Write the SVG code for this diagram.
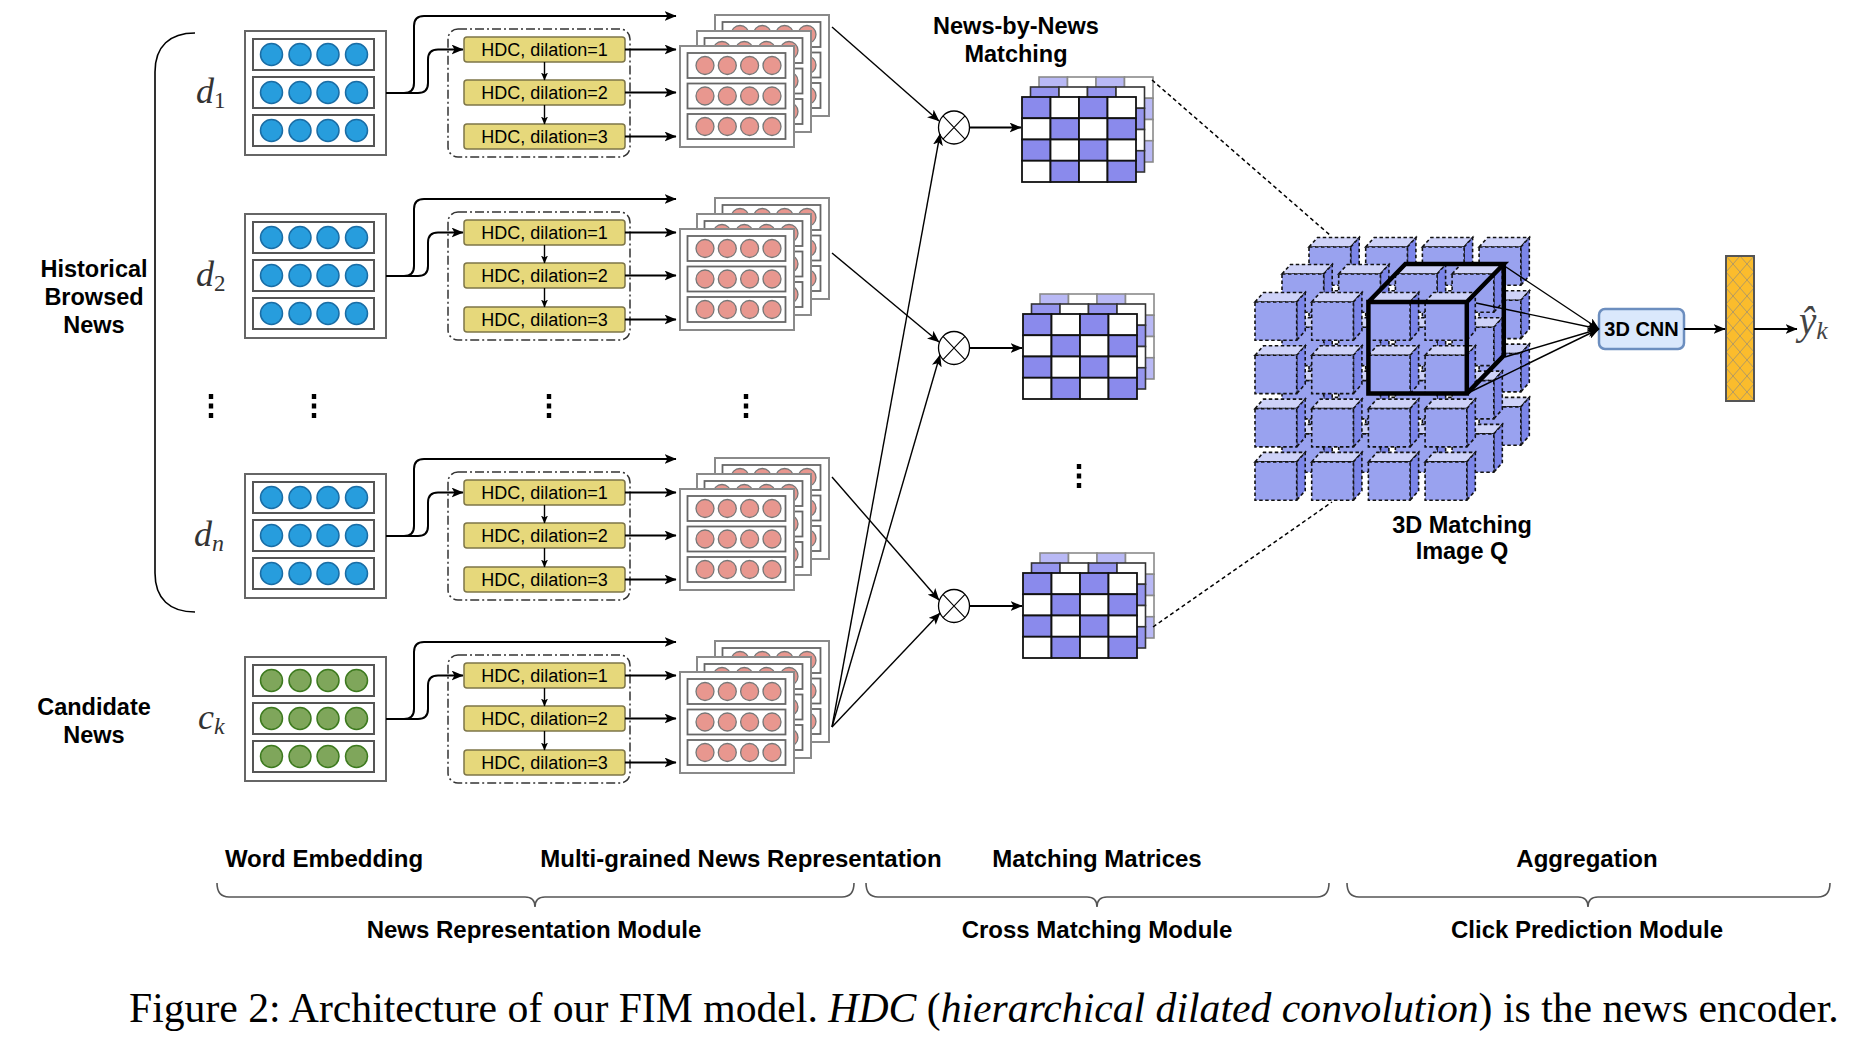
<svg xmlns="http://www.w3.org/2000/svg" xmlns:xlink="http://www.w3.org/1999/xlink" width="1872" height="1052" viewBox="0 0 1872 1052">
<style>
.lbl{font-family:"Liberation Sans",Arial,sans-serif;font-weight:bold;font-size:23.5px;text-anchor:middle;fill:#000}
.blbl{font-family:"Liberation Sans",Arial,sans-serif;font-weight:bold;font-size:24px;text-anchor:middle;fill:#000}
.cnn{font-family:"Liberation Sans",Arial,sans-serif;font-weight:bold;font-size:20px;text-anchor:middle;fill:#000}
.hdct{font-family:"Liberation Sans",Arial,sans-serif;font-size:18px;text-anchor:middle;fill:#000}
.math{font-family:"Liberation Serif","Times New Roman",serif;font-style:italic;font-size:36px;fill:#333}
.yhat{font-family:"Liberation Serif","Times New Roman",serif;font-style:italic;font-size:39px;fill:#444}
.cap{font-family:"Liberation Serif","Times New Roman",serif;font-size:41.7px;fill:#000}
.wbox{fill:#fff;stroke:#666;stroke-width:2}
.wrow{fill:#fff;stroke:#555;stroke-width:2}
.blue{fill:#279DDD;stroke:#1A6DA5;stroke-width:1.5}
.green{fill:#7FA65B;stroke:#3D7A1F;stroke-width:1.5}
.card{fill:#fff;stroke:#8a8a8a;stroke-width:2}
.crow{fill:#fff;stroke:#666;stroke-width:1.8}
.pink{fill:#E8978F;stroke:#777;stroke-width:1.3}
.dd{fill:none;stroke:#333;stroke-width:1.5;stroke-dasharray:9 3 2 3}
.hdc{fill:#E6D87B;stroke:#7d7548;stroke-width:1.5}
.ln{fill:none;stroke:#000;stroke-width:2}
.thin{fill:none;stroke:#000;stroke-width:1.4}
.dash{fill:none;stroke:#000;stroke-width:1.5;stroke-dasharray:4 3}
.cube{stroke:#111;stroke-width:1.6;stroke-dasharray:3.5 2.5}
.brace{fill:none;stroke:#555;stroke-width:1.6}
</style>
<defs>
<marker id="arr" viewBox="0 0 12 10" refX="11.5" refY="5" markerWidth="12" markerHeight="10" markerUnits="userSpaceOnUse" orient="auto"><path d="M0,0 L12,5 L0,10 L3,5 Z" fill="#000"/></marker>
<marker id="arrS" viewBox="0 0 8 7" refX="7.5" refY="3.5" markerWidth="8" markerHeight="7" markerUnits="userSpaceOnUse" orient="auto"><path d="M0,0 L8,3.5 L0,7 L2,3.5 Z" fill="#000"/></marker>
<pattern id="hatch" patternUnits="userSpaceOnUse" x="1726" y="256" width="14" height="16"><rect width="14" height="16" fill="#FBBC2C"/><path d="M0,0 L14,16 M14,0 L0,16" stroke="#B39A62" stroke-width="1"/></pattern>
<g id="rowB"><rect class="wrow" x="8" y="8" width="121" height="31"/><circle class="blue" cx="26.5" cy="23.5" r="11"/><circle class="blue" cx="55" cy="23.5" r="11"/><circle class="blue" cx="83" cy="23.5" r="11"/><circle class="blue" cx="111.5" cy="23.5" r="11"/></g>
<g id="rowG"><rect class="wrow" x="8" y="8" width="121" height="31"/><circle class="green" cx="26.5" cy="23.5" r="11"/><circle class="green" cx="55" cy="23.5" r="11"/><circle class="green" cx="83" cy="23.5" r="11"/><circle class="green" cx="111.5" cy="23.5" r="11"/></g>
<g id="weB"><rect class="wbox" width="141" height="124"/><use href="#rowB"/><use href="#rowB" y="38"/><use href="#rowB" y="76"/></g>
<g id="weG"><rect class="wbox" width="141" height="124"/><use href="#rowG"/><use href="#rowG" y="38"/><use href="#rowG" y="76"/></g>
<g id="crow"><rect class="crow" x="7.5" y="7" width="98" height="25"/><circle class="pink" cx="25" cy="19.5" r="9"/><circle class="pink" cx="47.3" cy="19.5" r="9"/><circle class="pink" cx="69.6" cy="19.5" r="9"/><circle class="pink" cx="92" cy="19.5" r="9"/></g>
<g id="card"><rect class="card" width="114" height="101"/><use href="#crow"/><use href="#crow" y="30.5"/><use href="#crow" y="61"/></g>
<g id="stack"><use href="#card" x="35" y="-31"/><use href="#card" x="17" y="-15"/><use href="#card"/></g>
<g id="mgrid">
<rect x="0" y="0" width="28.5" height="21.25"/><rect x="28.5" y="0" width="28.5" height="21.25" fill="#fff"/><rect x="57" y="0" width="28.5" height="21.25"/><rect x="85.5" y="0" width="28.5" height="21.25" fill="#fff"/>
<rect x="0" y="21.25" width="28.5" height="21.25" fill="#fff"/><rect x="28.5" y="21.25" width="28.5" height="21.25"/><rect x="57" y="21.25" width="28.5" height="21.25" fill="#fff"/><rect x="85.5" y="21.25" width="28.5" height="21.25"/>
<rect x="0" y="42.5" width="28.5" height="21.25"/><rect x="28.5" y="42.5" width="28.5" height="21.25" fill="#fff"/><rect x="57" y="42.5" width="28.5" height="21.25"/><rect x="85.5" y="42.5" width="28.5" height="21.25" fill="#fff"/>
<rect x="0" y="63.75" width="28.5" height="21.25" fill="#fff"/><rect x="28.5" y="63.75" width="28.5" height="21.25"/><rect x="57" y="63.75" width="28.5" height="21.25" fill="#fff"/><rect x="85.5" y="63.75" width="28.5" height="21.25"/>
</g>
<g id="matrix"><use href="#mgrid" x="17" y="-20" fill="#B9B9F5" stroke="#8a8a8a" stroke-width="1.6"/><use href="#mgrid" x="8.5" y="-10" fill="#9595EE" stroke="#333" stroke-width="1.6"/><use href="#mgrid" fill="#8A8AEC" stroke="#111" stroke-width="1.8"/></g>
<g id="otimes"><ellipse cx="0" cy="0" rx="15.5" ry="16.5" fill="#fff" stroke="#000" stroke-width="1.3"/><path d="M-11,-11.7 L11,11.7 M11,-11.7 L-11,11.7" stroke="#000" stroke-width="1.1"/></g>
<g id="cube" class="cube"><path d="M0,0 L8.5,-9.5 H50.2 L41.7,0 Z" fill="#CED2F8"/><path d="M41.7,0 L50.2,-9.5 V28.8 L41.7,38.3 Z" fill="#7B85E9"/><rect width="41.7" height="38.3" fill="#99A2EF"/></g>
<g id="vdots"><rect x="-2.2" y="0" width="4.4" height="5"/><rect x="-2.2" y="9.5" width="4.4" height="5"/><rect x="-2.2" y="19" width="4.4" height="5"/></g>
</defs>
<rect width="1872" height="1052" fill="#fff"/>

<g id="labels-left">
<text class="lbl" x="94" y="277">Historical</text>
<text class="lbl" x="94" y="305">Browsed</text>
<text class="lbl" x="94" y="333">News</text>
<text class="lbl" x="94" y="715">Candidate</text>
<text class="lbl" x="94" y="743">News</text>
<path d="M195,33 C170,33 155,46 155,72 V573 C155,599 170,612 195,612" fill="none" stroke="#000" stroke-width="1.6"/>
</g>

<g id="node-d1"><use href="#weB" x="245" y="31"/><text class="math" x="196" y="103">d<tspan font-style="normal" font-size="23" dy="5">1</tspan></text></g>
<g id="node-d2"><use href="#weB" x="245" y="214"/><text class="math" x="196" y="286">d<tspan font-style="normal" font-size="23" dy="5">2</tspan></text></g>
<g id="node-dn"><use href="#weB" x="245" y="474"/><text class="math" x="194" y="546">d<tspan font-size="24" dy="5">n</tspan></text></g>
<g id="node-ck"><use href="#weG" x="245" y="657"/><text class="math" x="198" y="729">c<tspan font-size="24" dy="5">k</tspan></text></g>

<g id="hdc-d1">
<rect class="dd" x="448" y="29" width="182" height="128" rx="10"/>
<rect class="hdc" x="464" y="37" width="161" height="25" rx="3"/><text class="hdct" x="544.5" y="55.5">HDC, dilation=1</text>
<rect class="hdc" x="464" y="80" width="161" height="25" rx="3"/><text class="hdct" x="544.5" y="98.5">HDC, dilation=2</text>
<rect class="hdc" x="464" y="124" width="161" height="25" rx="3"/><text class="hdct" x="544.5" y="142.5">HDC, dilation=3</text>
</g>
<g id="hdc-d2">
<rect class="dd" x="448" y="212" width="182" height="128" rx="10"/>
<rect class="hdc" x="464" y="220" width="161" height="25" rx="3"/><text class="hdct" x="544.5" y="238.5">HDC, dilation=1</text>
<rect class="hdc" x="464" y="263" width="161" height="25" rx="3"/><text class="hdct" x="544.5" y="281.5">HDC, dilation=2</text>
<rect class="hdc" x="464" y="307" width="161" height="25" rx="3"/><text class="hdct" x="544.5" y="325.5">HDC, dilation=3</text>
</g>
<g id="hdc-dn">
<rect class="dd" x="448" y="472" width="182" height="128" rx="10"/>
<rect class="hdc" x="464" y="480" width="161" height="25" rx="3"/><text class="hdct" x="544.5" y="498.5">HDC, dilation=1</text>
<rect class="hdc" x="464" y="523" width="161" height="25" rx="3"/><text class="hdct" x="544.5" y="541.5">HDC, dilation=2</text>
<rect class="hdc" x="464" y="567" width="161" height="25" rx="3"/><text class="hdct" x="544.5" y="585.5">HDC, dilation=3</text>
</g>
<g id="hdc-ck">
<rect class="dd" x="448" y="655" width="182" height="128" rx="10"/>
<rect class="hdc" x="464" y="663" width="161" height="25" rx="3"/><text class="hdct" x="544.5" y="681.5">HDC, dilation=1</text>
<rect class="hdc" x="464" y="706" width="161" height="25" rx="3"/><text class="hdct" x="544.5" y="724.5">HDC, dilation=2</text>
<rect class="hdc" x="464" y="750" width="161" height="25" rx="3"/><text class="hdct" x="544.5" y="768.5">HDC, dilation=3</text>
</g>

<g id="rep-d1"><use href="#stack" x="680" y="46"/></g>
<g id="rep-d2"><use href="#stack" x="680" y="229"/></g>
<g id="rep-dn"><use href="#stack" x="680" y="489"/></g>
<g id="rep-ck"><use href="#stack" x="680" y="672"/></g>

<g id="ellipses">
<use href="#vdots" x="211" y="394"/>
<use href="#vdots" x="314" y="394"/>
<use href="#vdots" x="549" y="394"/>
<use href="#vdots" x="746" y="394"/>
<use href="#vdots" x="1079" y="464"/>
</g>

<g id="nbn-label">
<text class="lbl" x="1016" y="34">News-by-News</text>
<text class="lbl" x="1016" y="62">Matching</text>
</g>

<g id="otimes-1"><use href="#otimes" x="954" y="127.5"/></g>
<g id="otimes-2"><use href="#otimes" x="954" y="348"/></g>
<g id="otimes-3"><use href="#otimes" x="954" y="606"/></g>

<g id="matrix-1"><use href="#matrix" x="1022" y="97"/></g>
<g id="matrix-2"><use href="#matrix" x="1023" y="314"/></g>
<g id="matrix-3"><use href="#matrix" x="1023" y="573"/></g>

<g id="image-q">
<use href="#cube" x="1309" y="247"/><use href="#cube" x="1365.7" y="247"/><use href="#cube" x="1422.4" y="247"/><use href="#cube" x="1479.1" y="247"/>
<use href="#cube" x="1309" y="300.3"/><use href="#cube" x="1365.7" y="300.3"/><use href="#cube" x="1422.4" y="300.3"/><use href="#cube" x="1479.1" y="300.3"/>
<use href="#cube" x="1309" y="353.6"/><use href="#cube" x="1365.7" y="353.6"/><use href="#cube" x="1422.4" y="353.6"/><use href="#cube" x="1479.1" y="353.6"/>
<use href="#cube" x="1309" y="406.9"/><use href="#cube" x="1365.7" y="406.9"/><use href="#cube" x="1422.4" y="406.9"/><use href="#cube" x="1479.1" y="406.9"/>
<use href="#cube" x="1282" y="274"/><use href="#cube" x="1338.7" y="274"/><use href="#cube" x="1395.4" y="274"/><use href="#cube" x="1452.1" y="274"/>
<use href="#cube" x="1282" y="327.3"/><use href="#cube" x="1338.7" y="327.3"/><use href="#cube" x="1395.4" y="327.3"/><use href="#cube" x="1452.1" y="327.3"/>
<use href="#cube" x="1282" y="380.6"/><use href="#cube" x="1338.7" y="380.6"/><use href="#cube" x="1395.4" y="380.6"/><use href="#cube" x="1452.1" y="380.6"/>
<use href="#cube" x="1282" y="433.9"/><use href="#cube" x="1338.7" y="433.9"/><use href="#cube" x="1395.4" y="433.9"/><use href="#cube" x="1452.1" y="433.9"/>
<use href="#cube" x="1255" y="302"/><use href="#cube" x="1311.7" y="302"/><use href="#cube" x="1368.4" y="302"/><use href="#cube" x="1425.1" y="302"/>
<use href="#cube" x="1255" y="355.3"/><use href="#cube" x="1311.7" y="355.3"/><use href="#cube" x="1368.4" y="355.3"/><use href="#cube" x="1425.1" y="355.3"/>
<use href="#cube" x="1255" y="408.6"/><use href="#cube" x="1311.7" y="408.6"/><use href="#cube" x="1368.4" y="408.6"/><use href="#cube" x="1425.1" y="408.6"/>
<use href="#cube" x="1255" y="461.9"/><use href="#cube" x="1311.7" y="461.9"/><use href="#cube" x="1368.4" y="461.9"/><use href="#cube" x="1425.1" y="461.9"/>
<path d="M1368.4,302 H1466.8 V393.6 H1368.4 Z M1368.4,302 L1405.4,264 H1503.8 L1466.8,302 M1503.8,264 V355.6 L1466.8,393.6" fill="none" stroke="#000" stroke-width="4.5" stroke-linejoin="miter"/>
<text class="lbl" x="1462" y="533">3D Matching</text>
<text class="lbl" x="1462" y="559">Image Q</text>
</g>

<g id="cnn3d">
<rect x="1599" y="309" width="85" height="40" rx="6" fill="#DAE8FC" stroke="#6C8EBF" stroke-width="2.5"/>
<text class="cnn" x="1641.5" y="336">3D CNN</text>
</g>
<g id="output-bar"><rect x="1726" y="256" width="28" height="145" fill="url(#hatch)" stroke="#555" stroke-width="2"/></g>
<g id="yhat"><text class="yhat" x="1799" y="334">ŷ<tspan font-size="26" dy="5">k</tspan></text></g>

<g id="connectors">
<path class="ln" marker-end="url(#arr)" d="M386,93 H404 Q414,93 414,83 V26 Q414,16 424,16 H676"/>
<path class="ln" marker-end="url(#arr)" d="M386,93 H418 Q428,93 428,83 V59.5 Q428,49.5 438,49.5 H463"/>
<path class="ln" marker-end="url(#arr)" d="M625,49.5 H676"/>
<path class="ln" marker-end="url(#arr)" d="M625,92.5 H676"/>
<path class="ln" marker-end="url(#arr)" d="M625,136.5 H676"/>
<path class="thin" marker-end="url(#arrS)" d="M544.5,62 V80"/>
<path class="thin" marker-end="url(#arrS)" d="M544.5,105 V124"/>

<path class="ln" marker-end="url(#arr)" d="M386,276 H404 Q414,276 414,266 V209 Q414,199 424,199 H676"/>
<path class="ln" marker-end="url(#arr)" d="M386,276 H418 Q428,276 428,266 V242.5 Q428,232.5 438,232.5 H463"/>
<path class="ln" marker-end="url(#arr)" d="M625,232.5 H676"/>
<path class="ln" marker-end="url(#arr)" d="M625,275.5 H676"/>
<path class="ln" marker-end="url(#arr)" d="M625,319.5 H676"/>
<path class="thin" marker-end="url(#arrS)" d="M544.5,245 V263"/>
<path class="thin" marker-end="url(#arrS)" d="M544.5,288 V307"/>

<path class="ln" marker-end="url(#arr)" d="M386,536 H404 Q414,536 414,526 V469 Q414,459 424,459 H676"/>
<path class="ln" marker-end="url(#arr)" d="M386,536 H418 Q428,536 428,526 V502.5 Q428,492.5 438,492.5 H463"/>
<path class="ln" marker-end="url(#arr)" d="M625,492.5 H676"/>
<path class="ln" marker-end="url(#arr)" d="M625,535.5 H676"/>
<path class="ln" marker-end="url(#arr)" d="M625,579.5 H676"/>
<path class="thin" marker-end="url(#arrS)" d="M544.5,505 V523"/>
<path class="thin" marker-end="url(#arrS)" d="M544.5,548 V567"/>

<path class="ln" marker-end="url(#arr)" d="M386,719 H404 Q414,719 414,709 V652 Q414,642 424,642 H676"/>
<path class="ln" marker-end="url(#arr)" d="M386,719 H418 Q428,719 428,709 V685.5 Q428,675.5 438,675.5 H463"/>
<path class="ln" marker-end="url(#arr)" d="M625,675.5 H676"/>
<path class="ln" marker-end="url(#arr)" d="M625,718.5 H676"/>
<path class="ln" marker-end="url(#arr)" d="M625,762.5 H676"/>
<path class="thin" marker-end="url(#arrS)" d="M544.5,688 V706"/>
<path class="thin" marker-end="url(#arrS)" d="M544.5,731 V750"/>

<path class="thin" marker-end="url(#arr)" d="M832,27 L939,121"/>
<path class="thin" marker-end="url(#arr)" d="M832,253 L939,342"/>
<path class="thin" marker-end="url(#arr)" d="M832,477 L939,600"/>
<path class="thin" marker-end="url(#arr)" d="M832,727 L940,134"/>
<path class="thin" marker-end="url(#arr)" d="M832,727 L940,355"/>
<path class="thin" marker-end="url(#arr)" d="M832,727 L940,613"/>

<path class="ln" marker-end="url(#arr)" d="M970,127.5 H1021"/>
<path class="ln" marker-end="url(#arr)" d="M970,348 H1022"/>
<path class="ln" marker-end="url(#arr)" d="M970,606 H1022"/>

<path class="dash" d="M1152,80 L1331,236"/>
<path class="dash" d="M1153,627 L1332,502"/>

<path class="thin" marker-end="url(#arr)" d="M1503,265 L1599,329"/>
<path class="thin" marker-end="url(#arr)" d="M1476,303 L1599,329"/>
<path class="thin" marker-end="url(#arr)" d="M1505,357 L1599,329"/>
<path class="thin" marker-end="url(#arr)" d="M1468,393 L1599,329"/>
<path class="ln" marker-end="url(#arr)" d="M1684,329 H1725"/>
<path class="ln" marker-end="url(#arr)" d="M1754,329 H1797"/>
</g>

<g id="bottom-labels">
<text class="blbl" x="324" y="867">Word Embedding</text>
<text class="blbl" x="741" y="867">Multi-grained News Representation</text>
<text class="blbl" x="1097" y="867">Matching Matrices</text>
<text class="blbl" x="1587" y="867">Aggregation</text>
<path class="brace" d="M217,883 Q217,897 229,897 H525 Q535,897 535,907 Q535,897 545,897 H842 Q854,897 854,883"/>
<path class="brace" d="M866,883 Q866,897 878,897 H1087 Q1097,897 1097,907 Q1097,897 1107,897 H1317 Q1329,897 1329,883"/>
<path class="brace" d="M1347,883 Q1347,897 1359,897 H1578 Q1588,897 1588,907 Q1588,897 1598,897 H1818 Q1830,897 1830,883"/>
<text class="blbl" x="534" y="938">News Representation Module</text>
<text class="blbl" x="1097" y="938">Cross Matching Module</text>
<text class="blbl" x="1587" y="938">Click Prediction Module</text>
</g>

<g id="caption">
<text class="cap" x="129" y="1022">Figure 2: Architecture of our FIM model. <tspan font-style="italic">HDC</tspan> (<tspan font-style="italic">hierarchical dilated convolution</tspan>) is the news encoder.</text>
</g>
</svg>
